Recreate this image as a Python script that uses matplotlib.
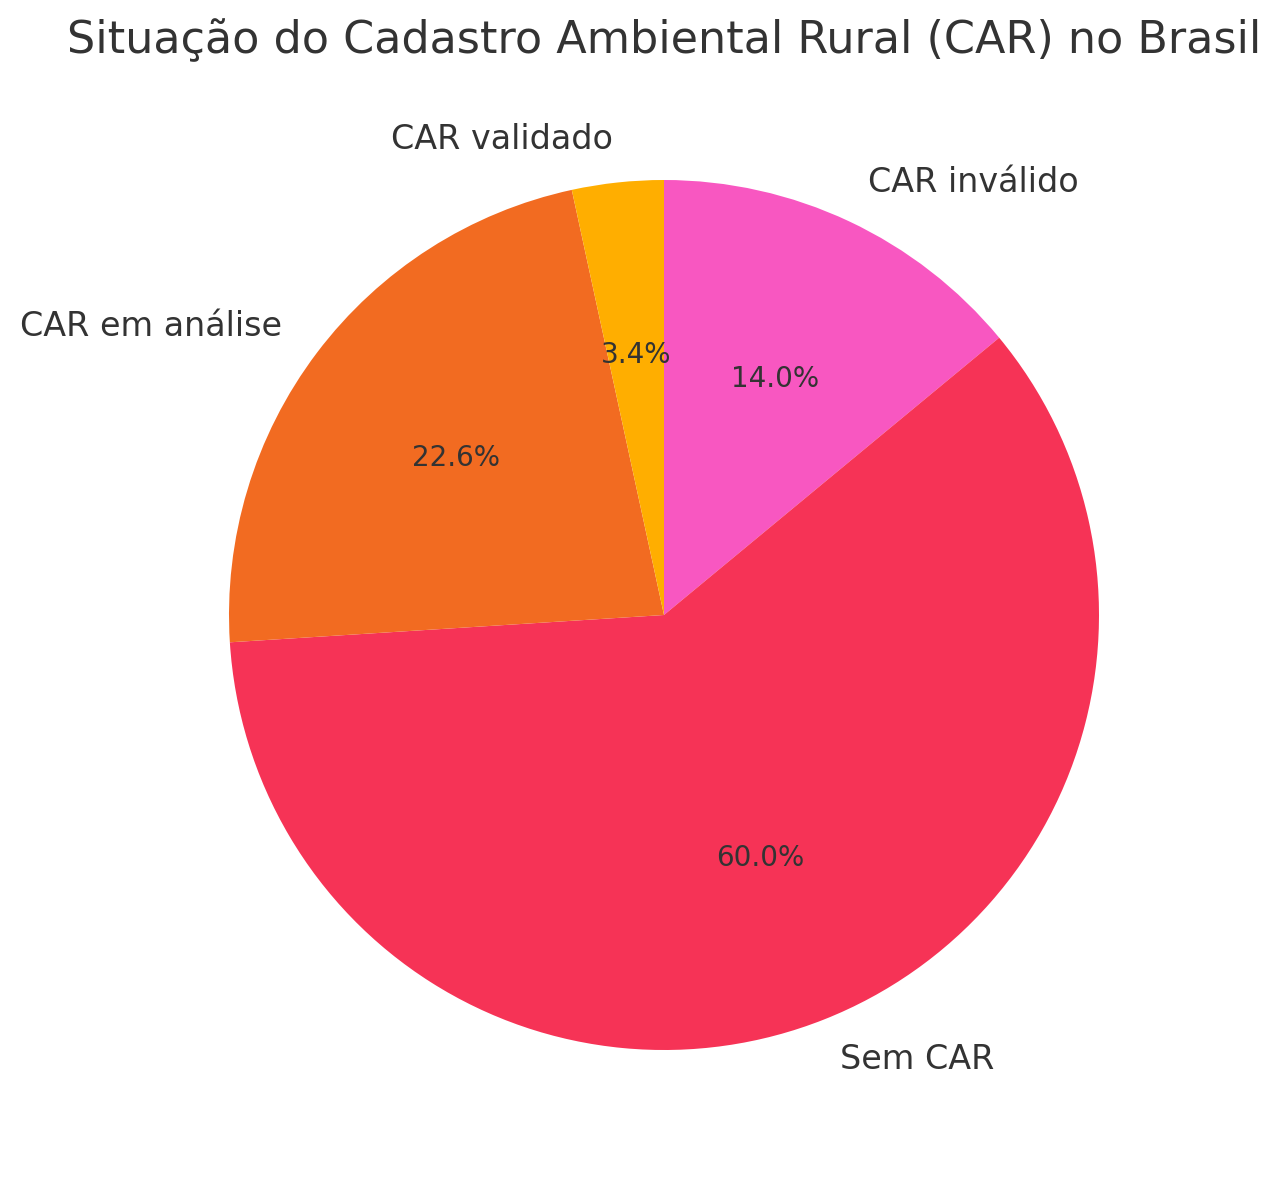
import matplotlib.pyplot as plt

# dados do CAR
categorias = ["CAR inválido", "Sem CAR", "CAR em análise", "CAR validado"]
valores = [14.0, 60.0, 22.6, 3.4]
cores = ["#F857C1", "#F63356", "#F26B21", "#FFAE00"]

plt.rcParams['font.family'] = ['DejaVu Sans']
plt.rcParams['text.color'] = '#333333'

W, H = 1281, 1180
fig = plt.figure(figsize=(W / 100, H / 100), dpi=100)

# centro da pizza ~ (664, 615) px, raio ~435 px
cx, cy, r = 664, 615, 435
half = r * 1.25
ax = fig.add_axes([(cx - half) / W, (H - cy - half) / H, 2 * half / W, 2 * half / H])

ax.pie(valores, labels=categorias, colors=cores, autopct='%1.1f%%',
       startangle=90, counterclock=False,
       textprops={'fontsize': 24, 'color': '#333333'})

for t in ax.texts:
    if t.get_text().endswith('%'):
        t.set_fontsize(20)

fig.text(cx / W, 1 - 40 / H, "Situação do Cadastro Ambiental Rural (CAR) no Brasil",
         fontsize=32, color='#333333', ha='center', va='center')

plt.savefig("out.png")
